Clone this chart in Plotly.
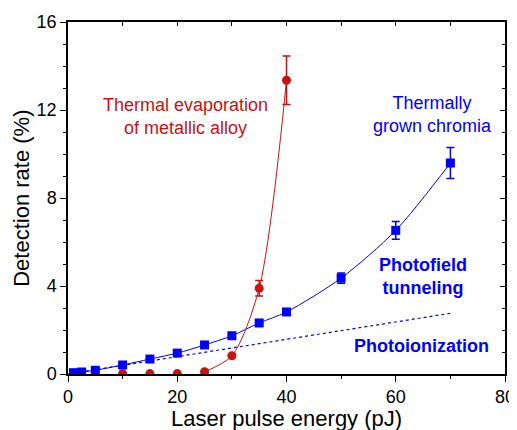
import plotly.graph_objects as go

# Data
chromia_x = [1, 2.5, 5, 10, 15, 20, 25, 30, 35, 40, 50, 60, 70]
chromia_y = [0.06, 0.09, 0.17, 0.41, 0.68, 0.95, 1.32, 1.74, 2.32, 2.82, 4.36, 6.53, 9.59]
chromia_err = [0, 0, 0, 0, 0, 0, 0, 0, 0.05, 0.05, 0.23, 0.40, 0.70]

alloy_x = [10, 15, 20, 25, 30, 35, 40]
alloy_y = [0.02, 0.02, 0.02, 0.1, 0.83, 3.9, 13.35]
alloy_err = [0, 0, 0, 0, 0, 0.35, 1.1]

alloy_fit_x = [25, 30, 35, 40]
alloy_fit_y = [0.1, 0.83, 3.9, 13.35]

photoion_x = [0, 70]
photoion_y = [0.0, 2.76]

BLUE = "#0000ff"
RED = "#cc1111"
FONT = "Arial, Liberation Sans, sans-serif"

fig = go.Figure()

fig.add_trace(go.Scatter(x=photoion_x, y=photoion_y, mode="lines",
                         line=dict(color=BLUE, width=1.2, dash="dot"),
                         showlegend=False, hoverinfo="skip"))
fig.add_trace(go.Scatter(x=chromia_x, y=chromia_y, mode="lines",
                         line=dict(color=BLUE, width=1, shape="spline", smoothing=0.8),
                         showlegend=False, hoverinfo="skip"))
fig.add_trace(go.Scatter(x=alloy_fit_x, y=alloy_fit_y, mode="lines",
                         line=dict(color=RED, width=1, shape="spline", smoothing=0.8),
                         showlegend=False, hoverinfo="skip"))
fig.add_trace(go.Scatter(x=chromia_x, y=chromia_y, mode="markers",
                         marker=dict(symbol="square", size=9, color=BLUE),
                         error_y=dict(type="data", array=chromia_err, color=BLUE,
                                      thickness=1.5, width=4),
                         showlegend=False))
fig.add_trace(go.Scatter(x=alloy_x, y=alloy_y, mode="markers",
                         marker=dict(symbol="circle", size=9, color=RED),
                         error_y=dict(type="data", array=alloy_err, color=RED,
                                      thickness=1.5, width=4),
                         showlegend=False))
fig.add_trace(go.Scatter(x=[0], y=[0], xaxis="x2", yaxis="y2", mode="markers",
                         marker=dict(opacity=0), showlegend=False, hoverinfo="skip"))

tickfont = dict(family=FONT, size=18, color="black")

fig.update_layout(
    width=517, height=430,
    margin=dict(l=60, r=20, t=14, b=64),
    paper_bgcolor="white", plot_bgcolor="white",
    font=dict(family=FONT, color="black"),
    xaxis=dict(range=[0, 80], dtick=20, tick0=0, showgrid=False, zeroline=False,
               showline=True, linecolor="black", linewidth=1.5,
               ticks="outside", ticklen=6, tickwidth=1.2, tickcolor="black",
               tickfont=tickfont, automargin=False, ticklabeloverflow="allow",
               minor=dict(dtick=10, ticks="outside", ticklen=3, tickcolor="black", tickwidth=1.2)),
    yaxis=dict(range=[0, 16], dtick=4, tick0=0, showgrid=False, zeroline=False,
               showline=True, linecolor="black", linewidth=1.5,
               ticks="outside", ticklen=6, tickwidth=1.2, tickcolor="black",
               tickfont=tickfont, automargin=False, ticklabeloverflow="allow",
               minor=dict(dtick=1, ticks="outside", ticklen=3, tickcolor="black", tickwidth=1.2)),
    xaxis2=dict(range=[0, 80], overlaying="x", side="top", dtick=10, showgrid=False,
                zeroline=False, showline=True, linecolor="black", linewidth=1.5,
                ticks="inside", ticklen=4, tickwidth=1.2, tickcolor="black",
                showticklabels=False, automargin=False),
    yaxis2=dict(range=[0, 16], overlaying="y", side="right", dtick=4, showgrid=False,
                zeroline=False, showline=True, linecolor="black", linewidth=1.5,
                ticks="inside", ticklen=5, tickwidth=1.2, tickcolor="black",
                showticklabels=False, automargin=False,
                minor=dict(dtick=1, ticks="inside", ticklen=3, tickcolor="black", tickwidth=1.2)),
)

annots = [
    dict(text="Thermal evaporation<br>of metallic alloy", x=21.5, y=11.7, color=RED),
    dict(text="Thermally<br>grown chromia", x=66.7, y=11.8, color=BLUE),
    dict(text="<b>Photofield<br>tunneling</b>", x=65.0, y=4.45, color=BLUE),
    dict(text="<b>Photoionization</b>", x=64.8, y=1.28, color=BLUE),
]
for a in annots:
    fig.add_annotation(text=a["text"], x=a["x"], y=a["y"], xref="x", yref="y",
                       showarrow=False, xanchor="center", yanchor="middle",
                       font=dict(family=FONT, size=18, color=a["color"]))

fig.add_annotation(text="Laser pulse energy (pJ)", xref="paper", yref="paper",
                   x=0.5, y=-0.085, xanchor="center", yanchor="top", showarrow=False,
                   font=dict(family=FONT, size=22, color="black"))
fig.add_annotation(text="Detection rate (%)", xref="paper", yref="paper",
                   x=-0.108, y=0.5, xanchor="center", yanchor="middle", showarrow=False,
                   textangle=-90, font=dict(family=FONT, size=22, color="black"))

fig.write_html("out.html")
